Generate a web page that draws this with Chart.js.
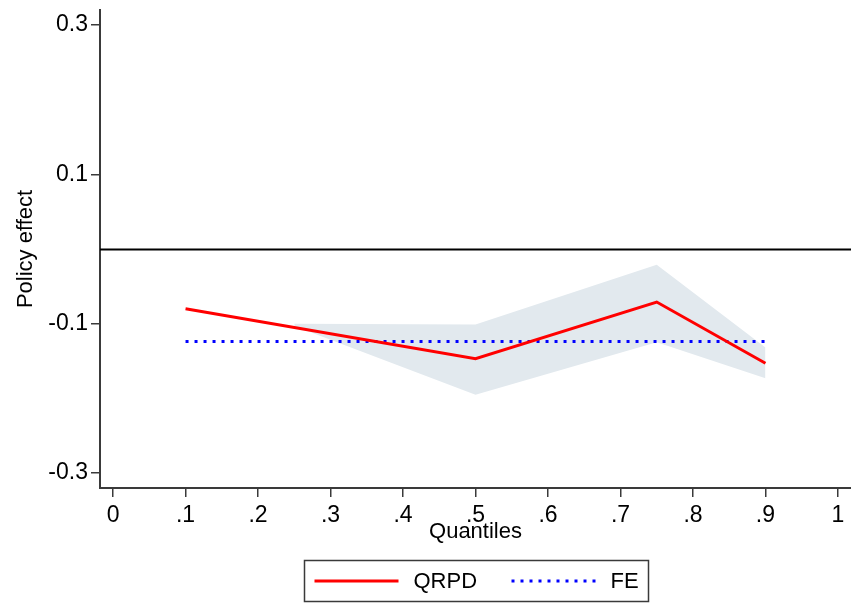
<!DOCTYPE html>
<html>
<head>
<meta charset="utf-8">
<script src="https://cdn.jsdelivr.net/npm/chart.js@4"></script>
<style>
  html, body { margin: 0; padding: 0; background: #fff; }
  #wrap { width: 851px; height: 603px; }
</style>
</head>
<body>
<div id="wrap"><canvas id="chart" width="851" height="603"></canvas></div>
<script>
// Data
const qrpdQuantiles = [0.1, 0.5, 0.75, 0.9];
const qrpdValues = [-0.080, -0.147, -0.071, -0.153];

const feQuantiles = [0.1, 0.9];
const feValues = [-0.124, -0.124];

// confidence band around QRPD
const bandQuantiles = [0.25, 0.5, 0.75, 0.9];
const bandUpper = [-0.100, -0.101, -0.021, -0.132];
const bandLower = [-0.103, -0.195, -0.125, -0.173];

const xTickValues = [0, 0.1, 0.2, 0.3, 0.4, 0.5, 0.6, 0.7, 0.8, 0.9, 1];
const xTickLabels = ['0', '.1', '.2', '.3', '.4', '.5', '.6', '.7', '.8', '.9', '1'];
const yTickValues = [-0.3, -0.1, 0.1, 0.3];
const yTickLabels = ['-0.3', '-0.1', '0.1', '0.3'];

const refLine = 0;

const FONT = '"Liberation Sans", Arial, sans-serif';
const AXIS_COLOR = '#3a3a3a';

const toPoints = (xs, ys) => xs.map((x, i) => ({ x: x, y: ys[i] }));

// horizontal reference line at y = 0
const refLinePlugin = {
    id: 'refLine',
    beforeDatasetsDraw(chart) {
        const { ctx, chartArea, scales } = chart;
        const y = Math.round(scales.y.getPixelForValue(refLine)) + 0.5;
        ctx.save();
        ctx.strokeStyle = '#000';
        ctx.lineWidth = 2;
        ctx.beginPath();
        ctx.moveTo(chartArea.left, y);
        ctx.lineTo(chartArea.right, y);
        ctx.stroke();
        ctx.restore();
    }
};

// boxed legend under the plot, Stata style
const legendBoxPlugin = {
    id: 'legendBox',
    afterDraw(chart) {
        const ctx = chart.ctx;
        const items = chart.data.datasets.filter(d => d.inLegend);
        const boxW = 344, boxH = 41;
        const cx = (chart.chartArea.left + chart.chartArea.right) / 2;
        const left = Math.round(cx - boxW / 2) + 0.5;
        const top = 560.5;
        ctx.save();
        ctx.strokeStyle = AXIS_COLOR;
        ctx.lineWidth = 1.5;
        ctx.strokeRect(left, top, boxW, boxH);

        const midY = top + boxH / 2;
        ctx.font = '22px ' + FONT;
        ctx.textBaseline = 'middle';
        ctx.fillStyle = '#000';
        let x = left + 10;
        items.forEach(d => {
            ctx.strokeStyle = d.borderColor;
            ctx.lineWidth = d.borderWidth;
            ctx.setLineDash(d.borderDash || []);
            ctx.beginPath();
            ctx.moveTo(x, midY);
            ctx.lineTo(x + 84, midY);
            ctx.stroke();
            ctx.setLineDash([]);
            ctx.fillText(d.label, x + 99, midY + 1);
            x += 197;
        });
        ctx.restore();
    }
};

const ctx = document.getElementById('chart').getContext('2d');
new Chart(ctx, {
    type: 'line',
    data: {
        datasets: [
            {
                label: 'QRPD',
                inLegend: true,
                data: toPoints(qrpdQuantiles, qrpdValues),
                borderColor: '#ff0000',
                borderWidth: 3,
                pointRadius: 0,
                fill: false,
                tension: 0
            },
            {
                label: 'FE',
                inLegend: true,
                data: toPoints(feQuantiles, feValues),
                borderColor: '#0000ff',
                borderWidth: 3,
                borderDash: [3, 6],
                borderCapStyle: 'butt',
                pointRadius: 0,
                fill: false
            },
            {
                label: 'upper',
                data: toPoints(bandQuantiles, bandUpper),
                borderWidth: 0,
                borderColor: 'rgba(0,0,0,0)',
                backgroundColor: '#e2e9ee',
                pointRadius: 0,
                fill: '+1'
            },
            {
                label: 'lower',
                data: toPoints(bandQuantiles, bandLower),
                borderWidth: 0,
                borderColor: 'rgba(0,0,0,0)',
                pointRadius: 0,
                fill: false
            }
        ]
    },
    options: {
        responsive: false,
        animation: false,
        layout: { padding: { top: 10, right: 0, left: 0, bottom: 0 } },
        plugins: {
            legend: { display: false },
            tooltip: { enabled: false }
        },
        scales: {
            x: {
                type: 'linear',
                min: -0.018,
                max: 1.018,
                afterBuildTicks: (scale) => { scale.ticks = xTickValues.map(v => ({ value: v })); },
                afterFit: (scale) => {
                    scale.height = 115;
                    scale.paddingLeft = 0;
                    scale.paddingRight = 0;
                },
                ticks: {
                    autoSkip: false,
                    maxRotation: 0,
                    padding: 5,
                    color: '#000',
                    font: { family: FONT, size: 23 },
                    callback: (v) => xTickLabels[xTickValues.findIndex(t => Math.abs(t - v) < 1e-9)]
                },
                grid: {
                    drawOnChartArea: false,
                    drawTicks: true,
                    tickLength: 9,
                    color: AXIS_COLOR,
                    lineWidth: 1.5
                },
                border: { display: true, color: AXIS_COLOR, width: 2 },
                title: {
                    display: true,
                    text: 'Quantiles',
                    color: '#000',
                    font: { family: FONT, size: 22 },
                    padding: { top: 0, bottom: 58 }
                }
            },
            y: {
                min: -0.32,
                max: 0.32,
                afterBuildTicks: (scale) => { scale.ticks = yTickValues.map(v => ({ value: v })); },
                afterFit: (scale) => {
                    scale.width = 100;
                    scale.paddingTop = 0;
                    scale.paddingBottom = 0;
                },
                ticks: {
                    autoSkip: false,
                    padding: 3,
                    color: '#000',
                    font: { family: FONT, size: 23 },
                    callback: (v) => yTickLabels[yTickValues.findIndex(t => Math.abs(t - v) < 1e-9)]
                },
                grid: {
                    drawOnChartArea: false,
                    drawTicks: true,
                    tickLength: 9,
                    color: AXIS_COLOR,
                    lineWidth: 1.5
                },
                border: { display: true, color: AXIS_COLOR, width: 2 },
                title: {
                    display: true,
                    text: 'Policy effect',
                    color: '#000',
                    font: { family: FONT, size: 22 },
                    padding: { top: 13, bottom: 0 }
                }
            }
        }
    },
    plugins: [refLinePlugin, legendBoxPlugin]
});
</script>
</body>
</html>
